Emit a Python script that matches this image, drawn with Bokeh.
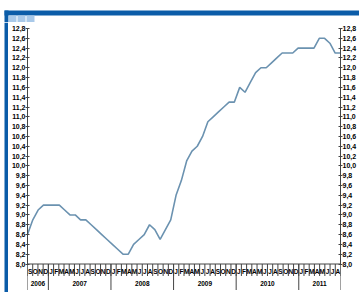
import numpy as np
from bokeh.plotting import figure
from bokeh.models import Range1d, LinearAxis, FixedTicker, CustomJSTickFormatter, Span
from bokeh.layouts import column, row
from bokeh.core.properties import value
from bokeh.embed import file_html
from bokeh.resources import INLINE

# ---- data ----
months = ["S", "O", "N", "D"] + ["J", "F", "M", "A", "M", "J", "J", "A", "S", "O", "N", "D"] * 4 + \
         ["J", "F", "M", "A", "M", "J", "J", "A"]
years = ["2006", "2007", "2008", "2009", "2010", "2011"]
year_months = [4, 12, 12, 12, 12, 8]
values = [8.6, 8.9, 9.1, 9.2, 9.2, 9.2, 9.2, 9.1, 9.0, 9.0,
          8.9, 8.9, 8.8, 8.7, 8.6, 8.5, 8.4, 8.3, 8.2, 8.2,
          8.4, 8.5, 8.6, 8.8, 8.7, 8.5, 8.7, 8.9, 9.4, 9.7,
          10.1, 10.3, 10.4, 10.6, 10.9, 11.0, 11.1, 11.2, 11.3, 11.3,
          11.6, 11.5, 11.7, 11.9, 12.0, 12.0, 12.1, 12.2, 12.3, 12.3,
          12.3, 12.4, 12.4, 12.4, 12.4, 12.6, 12.6, 12.5, 12.3, 12.3]
y_ticks = [round(8.0 + 0.2 * k, 1) for k in range(25)]

FONT = "'Liberation Sans', Arial, sans-serif"
AX = "#444444"
DARK = "#0b5ca8"
LIGHT = "#a9c9e9"
PALE = "#c5dcf0"

Y_MIN, Y_MAX = 8.0, 12.8
W_TOTAL = 359
LEFT_W = 8             # white gap (4) + dark bar (4)
HEAD_H = 22            # white (10) + dark band (5) + light tab (7)
P_W, P_H = W_TOTAL - LEFT_W, 268
BOTTOM_H = 2
TOP = 6
BAND = 26.5            # pixel height of the month/year band below the value axis
frame_h = P_H - TOP
Y_LOW = Y_MIN - BAND * (Y_MAX - Y_MIN) / (frame_h - BAND)
px_per_unit = frame_h / (Y_MAX - Y_LOW)


def plain(width, height, color):
    f = figure(width=width, height=height, output_backend="svg", toolbar_location=None,
               title=None, min_border=0, x_axis_location=None, y_axis_location=None, margin=0,
               x_range=Range1d(0, width), y_range=Range1d(0, height))
    f.xgrid.visible = False
    f.ygrid.visible = False
    f.outline_line_color = None
    f.background_fill_color = color
    f.border_fill_color = color
    return f


p = figure(width=P_W, height=P_H, output_backend="svg", toolbar_location=None, title=None,
           x_range=Range1d(0, len(values) - 1), y_range=Range1d(Y_LOW, Y_MAX),
           min_border_left=17, min_border_right=16, min_border_top=TOP, min_border_bottom=0,
           x_axis_location=None, y_axis_location=None, margin=0)
p.xgrid.visible = False
p.ygrid.visible = False
p.outline_line_color = None
p.background_fill_color = "white"
p.border_fill_color = "white"

fmt = CustomJSTickFormatter(code="return tick.toFixed(1).replace('.', ',');")
for side in ("left", "right"):
    ax = LinearAxis(ticker=FixedTicker(ticks=y_ticks), formatter=fmt, bounds=(Y_MIN, Y_MAX))
    ax.major_tick_in = 2
    ax.major_tick_out = 2
    ax.minor_tick_in = 0
    ax.minor_tick_out = 0
    ax.major_label_standoff = 0
    ax.major_label_text_font = FONT
    ax.major_label_text_font_size = "7px"
    ax.major_label_text_font_style = "bold"
    ax.major_label_text_color = "black"
    ax.axis_line_color = AX
    ax.major_tick_line_color = AX
    p.add_layout(ax, side)

# ---- month / year band below the value axis (inside the frame) ----
n_months = len(months)
p.extra_x_ranges = {"months": Range1d(0, n_months)}
bounds = [0]
for m in year_months:
    bounds.append(bounds[-1] + m)
centers = [(bounds[k] + bounds[k + 1]) / 2 for k in range(len(years))]

p.add_layout(Span(location=Y_MIN, dimension="width", line_color=AX, line_width=1))

tick_len = 12 / px_per_unit
mb = list(range(n_months + 1))
p.segment(x0=mb, y0=[Y_MIN] * len(mb), x1=mb, y1=[Y_MIN - tick_len] * len(mb),
          x_range_name="months", line_color=AX, line_width=1)
p.segment(x0=bounds, y0=[Y_MIN] * len(bounds), x1=bounds, y1=[Y_LOW] * len(bounds),
          x_range_name="months", line_color=AX, line_width=1)
p.text(x=[i + 0.5 for i in range(n_months)], y=[Y_MIN] * n_months, text=months,
       x_range_name="months", y_offset=7,
       text_font=value(FONT), text_font_size="6.5px", text_font_style="bold",
       text_color="black", text_align="center", text_baseline="middle")
p.text(x=centers, y=[Y_MIN] * len(years), text=years,
       x_range_name="months", y_offset=19,
       text_font=value(FONT), text_font_size="6.5px", text_font_style="bold",
       text_color="black", text_align="center", text_baseline="middle")

p.line(list(range(len(values))), values, line_color="#6b92b0", line_width=1.6)

# ---- frame decorations: small plain canvases ----
head = plain(W_TOTAL, HEAD_H, "white")
head.quad(left=[4, 4], right=[W_TOTAL, LEFT_W], bottom=[HEAD_H - 15, 0], top=[HEAD_H - 10, HEAD_H - 10],
          fill_color=DARK, line_color=None)
head.quad(left=[LEFT_W, LEFT_W + 9, LEFT_W + 18], right=[LEFT_W + 8, LEFT_W + 17, LEFT_W + 26],
          bottom=[0, 0, 0], top=[HEAD_H - 15] * 3, fill_color=LIGHT, line_color=None)
left_strip = plain(LEFT_W, P_H + BOTTOM_H, "white")
left_strip.quad(left=[4], right=[LEFT_W], bottom=[0], top=[P_H + BOTTOM_H],
                fill_color=DARK, line_color=None)
bottom_line = plain(P_W, BOTTOM_H, PALE)

layout = column(head,
                row(left_strip, column(p, bottom_line, spacing=0), spacing=0),
                spacing=0)

open("out.html", "w").write(file_html(layout, INLINE))
